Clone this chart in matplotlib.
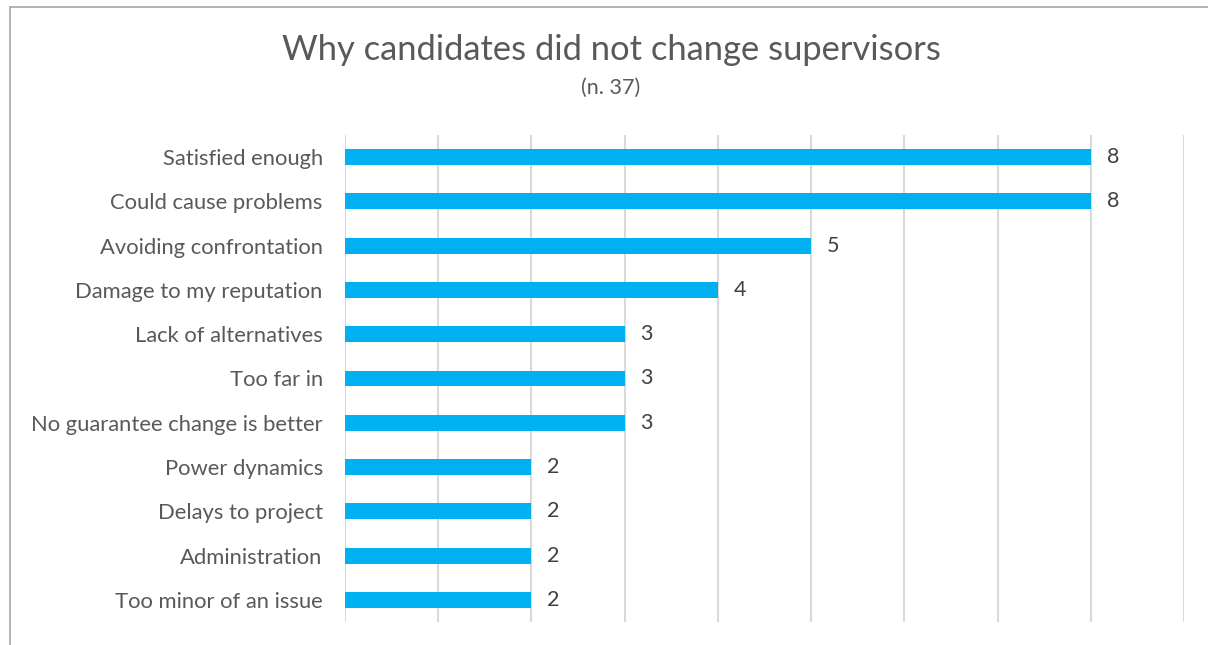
import matplotlib
matplotlib.use("Agg")
import matplotlib.pyplot as plt
from matplotlib.patches import Rectangle


REASONS = [
    "Satisfied enough",
    "Could cause problems",
    "Avoiding confrontation",
    "Damage to my reputation",
    "Lack of alternatives",
    "Too far in",
    "No guarantee change is better",
    "Power dynamics",
    "Delays to project",
    "Administration",
    "Too minor of an issue",
]
COUNTS = [8, 8, 5, 4, 3, 3, 3, 2, 2, 2, 2]

TITLE = "Why candidates did not change supervisors"
SUBTITLE = "(n. 37)"

BAR_COLOR = "#00B0F0"
TEXT_COLOR = "#595959"
GRID_COLOR = "#d9d9d9"

plt.rcParams["font.family"] = ["Lato", "DejaVu Sans"]

fig = plt.figure(figsize=(12.08, 6.45), dpi=100)
ax = fig.add_axes([345 / 1208, 23 / 645, 839 / 1208, 487 / 645])

# 外框
fig.patches.append(Rectangle((10 / 1208, -0.05), 1.2, 1 - 7 / 645 + 0.05,
                             transform=fig.transFigure, fill=False,
                             edgecolor="#a6a6a6", linewidth=1.2))

y_pos = list(range(len(REASONS)))
ax.barh(y_pos, COUNTS, height=0.36, color=BAR_COLOR, zorder=3)

for y, v in zip(y_pos, COUNTS):
    ax.text(v + 0.17, y, str(v), va="center", ha="left",
            fontsize=15.5, color="#404040")

ax.set_yticks(y_pos)
ax.set_yticklabels(REASONS, fontsize=15.8, color=TEXT_COLOR)
ax.set_ylim(len(REASONS) - 0.5, -0.5)
ax.set_xlim(0, 9)
ax.set_xticks(range(0, 10))
ax.set_xticklabels([])
ax.tick_params(axis="both", length=0)
ax.tick_params(axis="y", pad=16)
ax.grid(axis="x", color=GRID_COLOR, linewidth=1.5, zorder=0)
for s in ax.spines.values():
    s.set_visible(False)

fig.text(611 / 1208, 1 - 50 / 645, TITLE, ha="center", va="center",
         fontsize=24.8, color=TEXT_COLOR)
fig.text(611 / 1208, 1 - 88 / 645, SUBTITLE, ha="center", va="center",
         fontsize=15.5, color=TEXT_COLOR)

fig.savefig("out.png", dpi=100)
